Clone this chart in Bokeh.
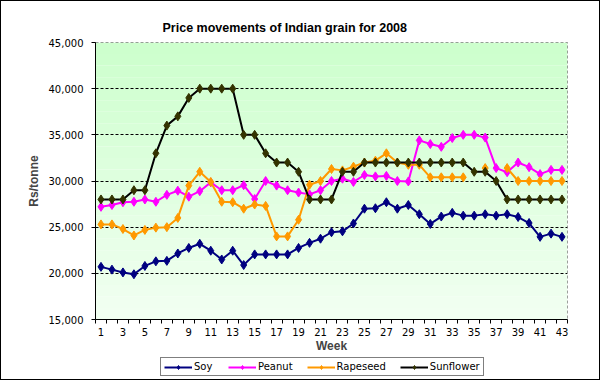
import numpy as np
from bokeh.plotting import figure
from bokeh.layouts import column
from bokeh.models import Range1d, FixedTicker, NumeralTickFormatter, Legend, LegendItem
from bokeh.embed import file_html
from bokeh.resources import INLINE

nan = float("nan")

weeks = list(range(1, 44))
x_label_weeks = list(range(1, 44, 2))
y_ticks = [15000, 20000, 25000, 30000, 35000, 40000, 45000]

soy = [20700, 20400, 20100, 19900, 20800, 21300, 21350, 22150, 22750, 23200,
       22450, 21500, 22450, 20900, 22050, 22050, 22050, 22050, 22750, 23300,
       23750, 24450, 24550, 25400, 27000, 27050, 27700, 27000, 27400, 26400,
       25350, 26150, 26550, 26250, 26250, 26400, 26250, 26400, 26100, 25450,
       23950, 24300, 23950]
peanut = [27200, 27400, 27700, 27750, 28000, 27750, 28500, 28950, 28300, 28900,
          29850, 29000, 29000, 29550, 28050, 30000, 29500, 29000, 28750, 28550,
          29000, 30000, 30250, 29900, 30650, 30500, 30550, 30000, 29950, 34400,
          34000, 33700, 34650, 35000, 35000, 34700, 31400, 30950, 32000, 31500,
          30750, 31200, 31200]
rapeseed = [25300, 25300, 24800, 24100, 24700, 24950, 25000, 26000, 29500, 31000,
            29900, 27750, 27700, 27000, 27450, 27300, 24000, 24000, 25800, 29600,
            30000, 31300, 31150, 31550, 32000, 32200, 33000, 32000, 31750, 31750,
            30400, 30400, 30400, 30400, nan, 31400, nan, 31400, 30000, 30000,
            30000, 30000, 30000]
sunflower = [28000, 28000, 28000, 29000, 29000, 33000, 36000, 37000, 39000, 40000,
             40000, 40000, 40000, 35000, 35000, 33000, 32000, 32000, 31000, 28000,
             28000, 28000, 31000, 31000, 32000, 32000, 32000, 32000, 32000, 32000,
             32000, 32000, 32000, 32000, 31000, 31000, 30000, 28000, 28000, 28000,
             28000, 28000, 28000]

series = [
    ("Soy", soy, "#000080", "#000080"),
    ("Peanut", peanut, "#FF00FF", "#FF00FF"),
    ("Rapeseed", rapeseed, "#FF9900", "#FF9900"),
    ("Sunflower", sunflower, "#000000", "#333300"),
]

x0, x1 = 0.5, 43.5
y0, y1 = 15000, 45000

p = figure(frame_width=472, frame_height=277, output_backend="svg", toolbar_location=None,
           x_range=Range1d(x0, x1), y_range=Range1d(y0, y1),
           min_border_left=94, min_border_right=32, min_border_top=41,
           min_border_bottom=38)
p.background_fill_color = "white"
p.border_fill_color = "white"

# gradient background of plot area (drawn beneath the grid)
nb = 24
edges = np.linspace(y0, y1, nb + 1)
bot_c = np.array([0xF2, 0xFF, 0xF2])
top_c = np.array([0xCC, 0xFF, 0xCC])
cols = []
for i in range(nb):
    t = (i + 0.5) / nb
    c = (bot_c * (1 - t) + top_c * t).round().astype(int)
    cols.append("#%02x%02x%02x" % tuple(c))
p.quad(left=x0, right=x1, bottom=edges[:-1], top=edges[1:], fill_color=cols,
       line_color=None, level="image")

# legend strip below the chart (its frame is aligned with the chart's frame)
lg = figure(width=598, height=22, output_backend="svg", toolbar_location=None,
            x_range=Range1d(0, 1), y_range=Range1d(0, 1), min_border=0)
lg.axis.visible = False
lg.grid.visible = False
lg.outline_line_color = None
lg.background_fill_color = "white"
lg.border_fill_color = "white"

items = []
for name, vals, lc, mc in series:
    p.line(weeks, vals, line_color=lc, line_width=2)
    p.scatter(weeks, vals, marker="diamond", size=9, fill_color=mc, line_color=mc)
    # same series in the legend strip: out of its view, only their legend glyphs show
    dl = lg.line(weeks, vals, line_color=lc, line_width=2)
    ds = lg.scatter(weeks, vals, marker="diamond", size=9, fill_color=mc, line_color=mc)
    items.append(LegendItem(label=name, renderers=[dl, ds]))

legend = Legend(items=items, orientation="horizontal", location=(65, 3))
legend.label_text_font = "DejaVu Sans"
legend.label_text_font_size = "10px"
legend.label_text_color = "black"
legend.glyph_width = 28
legend.glyph_height = 10
legend.label_standoff = 2
legend.spacing = 14
legend.padding = 3
legend.margin = 0
legend.border_line_color = "black"
legend.border_line_width = 1
legend.background_fill_color = "white"
legend.background_fill_alpha = 1
lg.add_layout(legend, "center")

# title
p.title.text = "Price movements of Indian grain for 2008"
p.title.align = "left"
p.title.offset = 67
p.title.standoff = 16
p.title.text_font = "Liberation Sans"
p.title.text_font_style = "bold"
p.title.text_font_size = "12.5px"
p.title.text_color = "black"

# grid / outline
p.xgrid.visible = False
p.ygrid.ticker = FixedTicker(ticks=y_ticks)
p.ygrid.grid_line_color = "black"
p.ygrid.grid_line_dash = "3 2"
p.ygrid.grid_line_width = 1
p.outline_line_color = "#808080"
p.outline_line_dash = "3 2"

# x axis
xa = p.xaxis[0]
xa.ticker = FixedTicker(ticks=x_label_weeks, minor_ticks=[w + 0.5 for w in range(0, 44)])
xa.major_tick_out = 0
xa.major_tick_in = 0
xa.minor_tick_out = 4
xa.minor_tick_in = 0
xa.minor_tick_line_color = "black"
xa.axis_line_color = "black"
xa.major_label_standoff = 4
xa.major_label_text_font = "DejaVu Sans"
xa.major_label_text_font_size = "10px"
xa.major_label_text_color = "black"
xa.axis_label = "Week"
xa.axis_label_text_font = "Liberation Sans"
xa.axis_label_text_font_style = "bold"
xa.axis_label_text_font_size = "12px"
xa.axis_label_standoff = 0

# y axis
ya = p.yaxis[0]
ya.ticker = FixedTicker(ticks=y_ticks)
ya.formatter = NumeralTickFormatter(format="0,0")
ya.major_tick_out = 4
ya.major_tick_in = 0
ya.major_tick_line_color = "black"
ya.axis_line_color = "black"
ya.major_label_standoff = 8
ya.major_label_text_font = "DejaVu Sans"
ya.major_label_text_font_size = "10px"
ya.major_label_text_color = "black"
ya.axis_label = "Rs/tonne"
ya.axis_label_text_font = "Liberation Sans"
ya.axis_label_text_font_style = "bold"
ya.axis_label_text_font_size = "12px"
ya.axis_label_standoff = 5

layout = column(p, lg, spacing=0, styles={"border": "1px solid black"})
open("out.html", "w").write(file_html(layout, INLINE))
